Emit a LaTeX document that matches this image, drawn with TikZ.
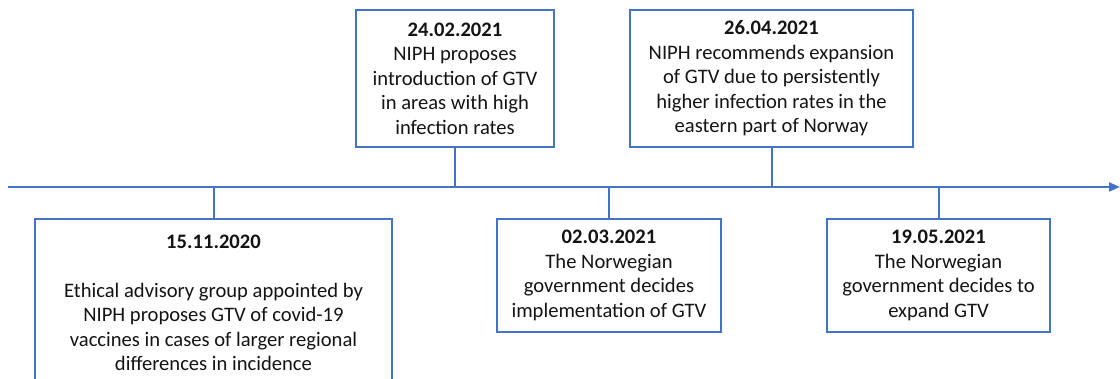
\documentclass[tikz,border=0pt]{standalone}
\usepackage{fontspec}
\setmainfont{Carlito}
\usetikzlibrary{arrows.meta}
\definecolor{lineblue}{HTML}{4472C4}
\definecolor{txt}{HTML}{141414}
\tikzset{
  event/.style={draw=lineblue, line width=2pt, fill=white, align=center,
    text=txt, inner sep=2pt, font=\fontsize{20.6}{24.5}\selectfont},
  link/.style={draw=lineblue, line width=2pt},
  axis/.style={draw=lineblue, line width=2pt, -{Triangle[length=11pt,width=9pt]}}
}
\begin{document}
\begin{tikzpicture}[x=1pt,y=-1pt]
\useasboundingbox (0,0) rectangle (1120,379);
\clip (0,0) rectangle (1120,379);
\coordinate (tlS) at (8,187);
\coordinate (tlE) at (1120,187);
\draw[axis] (tlS) -- (tlE);

\node[event, minimum width=357pt, minimum height=168pt] (e1) at (213.5,303)
  {\textbf{15.11.2020}\\[24.5pt]
   Ethical advisory group appointed by\\
   NIPH proposes GTV of covid-19\\
   vaccines in cases of larger regional\\
   differences in incidence};
\node[event, minimum width=198pt, minimum height=137pt] (e2) at (455,78.5)
  {\textbf{24.02.2021}\\
   NIPH proposes\\
   introduction of GTV\\
   in areas with high\\
   infection rates};
\node[event, minimum width=224pt, minimum height=113pt] (e3) at (609,275.5)
  {\textbf{02.03.2021}\\
   The Norwegian\\
   government decides\\
   implementation of GTV};
\node[event, minimum width=283pt, minimum height=137pt] (e4) at (771.5,78.5)
  {\textbf{26.04.2021}\\
   NIPH recommends expansion\\
   of GTV due to persistently\\
   higher infection rates in the\\
   eastern part of Norway};
\node[event, minimum width=223pt, minimum height=113pt] (e5) at (938.5,275.5)
  {\textbf{19.05.2021}\\
   The Norwegian\\
   government decides to\\
   expand GTV};

\draw[link] (e1.north) -- (e1.north |- tlS);
\draw[link] (e2.south) -- (e2.south |- tlS);
\draw[link] (e3.north) -- (e3.north |- tlS);
\draw[link] (e4.south) -- (e4.south |- tlS);
\draw[link] (e5.north) -- (e5.north |- tlS);
\end{tikzpicture}
\end{document}
